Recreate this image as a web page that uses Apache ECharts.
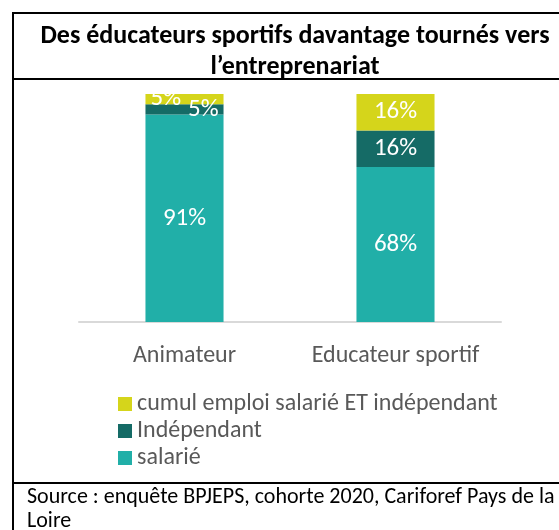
<!DOCTYPE html>
<html>
<head>
<meta charset="utf-8">
<script src="https://cdn.jsdelivr.net/npm/echarts@6/dist/echarts.min.js"></script>
<style>
    html, body { margin: 0; padding: 0; background: #fff; }
    #chart { width: 559px; height: 530px; }
</style>
</head>
<body>
<div id="chart"></div>
<script>
// données
var categories = ['Animateur', 'Educateur sportif'];
var salarie = [91, 68];
var independant = [4.5, 16];
var cumul = [4.5, 16];
var legendNames = ['cumul emploi salarié ET indépendant', 'Indépendant', 'salarié'];

var FONT = 'Calibri, Carlito, Lato, sans-serif';
var GRAY = '#595959';

var myChart = echarts.init(document.getElementById('chart'));

//étiquette en pourcentage arrondi
function pct(p) {
    return Math.round(p.value) + '%';
}

function labelStyle(position) {
    return {
        show: true,
        position: position || 'inside',
        color: '#fff',
        fontSize: 25,
        fontFamily: FONT,
        formatter: pct
    };
}

var option = {
    animation: false,
    title: {
        text: 'Des éducateurs sportifs davantage tournés vers\nl\u2019entreprenariat',
        left: 290,
        top: 16,
        textAlign: 'center',
        textStyle: {
            fontFamily: FONT,
            fontSize: 26,
            fontWeight: 'bold',
            color: '#000',
            lineHeight: 31
        }
    },
    legend: {
        orient: 'vertical',
        left: 118,
        top: 392,
        padding: 0,
        itemWidth: 14,
        itemHeight: 14,
        itemGap: 3,
        icon: 'rect',
        data: legendNames,
        textStyle: { fontFamily: FONT, fontSize: 24, color: GRAY }
    },
    grid: {
        left: 79,
        right: 58,
        top: 94,
        bottom: 208
    },
    xAxis: {
        type: 'category',
        data: categories,
        axisLine: { lineStyle: { color: '#d9d9d9', width: 2 } },
        axisTick: { show: false },
        axisLabel: { interval: 0, hideOverlap: false, fontFamily: FONT, fontSize: 24, color: GRAY, margin: 22 }
    },
    yAxis: {
        type: 'value',
        min: 0,
        max: 100,
        show: false
    },
    series: [
        {
            name: 'salarié',
            type: 'bar',
            stack: 'total',
            barCategoryGap: '63%',
            data: salarie,
            itemStyle: { color: '#21AFA8' },
            label: labelStyle()
        },
        {
            name: 'Indépendant',
            type: 'bar',
            stack: 'total',
            data: [
                { value: independant[0], label: labelStyle('insideRight') },
                independant[1]
            ],
            itemStyle: { color: '#156B66' },
            label: labelStyle()
        },
        {
            name: 'cumul emploi salarié ET indépendant',
            type: 'bar',
            stack: 'total',
            data: [
                { value: cumul[0], label: labelStyle('insideLeft') },
                cumul[1]
            ],
            itemStyle: { color: '#D5D51B' },
            label: labelStyle()
        }
    ],
    graphic: [
        //cadre
        { type: 'rect', shape: { x: 13, y: 13, width: 560, height: 530 }, style: { fill: 'none', stroke: '#000', lineWidth: 2 }, silent: true },
        { type: 'line', shape: { x1: 13, y1: 79, x2: 559, y2: 79 }, style: { stroke: '#000', lineWidth: 2 }, silent: true },
        { type: 'line', shape: { x1: 13, y1: 483, x2: 559, y2: 483 }, style: { stroke: '#000', lineWidth: 2 }, silent: true },
        //source
        {
            type: 'text', left: 27, top: 485,
            style: {
                text: 'Source : enquête BPJEPS, cohorte 2020, Cariforef Pays de la\nLoire',
                fontFamily: FONT, fontSize: 22, fill: '#000', lineHeight: 24
            },
            silent: true
        }
    ]
};

myChart.setOption(option);
</script>
</body>
</html>
